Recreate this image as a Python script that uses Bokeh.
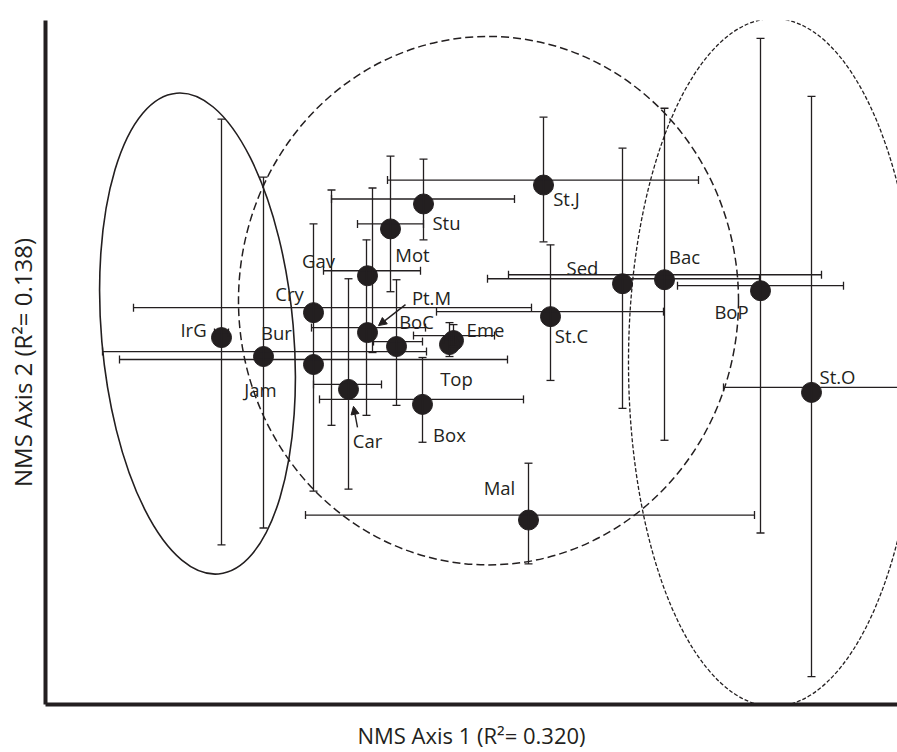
from bokeh.plotting import figure
from bokeh.models import (ColumnDataSource, Range1d, Whisker, TeeHead, FixedTicker,
                          Arrow, NormalHead)
from bokeh.core.properties import value
from bokeh.transform import dodge
from bokeh.embed import file_html
from bokeh.resources import INLINE

# ---- data (NMS scores, arbitrary units) ----
sites = ["IrG", "Bur", "Jam", "Cry", "Gav", "Mot", "Stu", "St.J", "Pt.M", "BoC",
         "Eme", "Top", "Car", "Box", "Mal", "St.C", "Sed", "Bac", "BoP", "St.O"]
axis1 = [176, 218, 268, 268, 322, 345, 378, 498, 322, 351,
         408, 404, 303, 377, 483, 505, 577, 619, 715, 766]
axis2 = [373, 354, 346, 398, 435, 482, 507, 526, 378, 364,
         370, 366, 321, 306, 190, 394, 427, 431, 420, 318]
# position of the vertical error bar on axis 1 (equals axis1 except where offset)
axis1_bar = [176, 218, 268, 286, 327, 345, 378, 498, 321, 351,
             408, 404, 303, 377, 483, 505, 577, 619, 715, 766]
axis1_lo = [169, 57, 74, 88, 278, 312, 286, 342, 266, 328,
            368, 398, 268, 274, 260, 391, 442, 463, 632, 678]
axis1_hi = [183, 381, 462, 486, 375, 378, 469, 653, 380, 377,
            449, 410, 336, 478, 709, 618, 714, 776, 798, 854]
axis2_lo = [160, 177, 214, 280, 353, 414, 466, 464, 290, 300,
            359, 349, 216, 263, 141, 325, 297, 265, 172, 28]
axis2_hi = [587, 529, 482, 516, 518, 550, 547, 589, 466, 426,
            381, 383, 427, 348, 242, 461, 558, 598, 668, 610]

# group ellipses: centre x, centre y, width, height, angle
grp_x = [152, 443, 728]
grp_y = [372, 405, 343]
grp_w = [192, 500, 290]
grp_h = [484, 530, 690]
grp_angle = [0.087, 0.0, 0.0]

# ---- layout / style (label offsets in screen pixels) ----
label_dx = {"IrG": -28, "Bur": 13, "Jam": -53, "Cry": -24, "Gav": -49, "Mot": 22,
            "Stu": 23, "St.J": 23, "Pt.M": 64, "BoC": 20, "Eme": 32, "Top": 7,
            "Car": 19, "Box": 27, "Mal": -29, "St.C": 21, "Sed": -40, "Bac": 20,
            "BoP": -29, "St.O": 26}
label_dy = {"IrG": -3, "Bur": -19, "Jam": 30, "Cry": -14, "Gav": -10, "Mot": 31,
            "Stu": 24, "St.J": 18, "Pt.M": -30, "BoC": -20, "Eme": -6, "Top": 39,
            "Car": 56, "Box": 35, "Mal": -28, "St.C": 24, "Sed": -11, "Bac": -18,
            "BoP": 26, "St.O": -11}
MARKER_SHIFT = -5  # markers in the original sit slightly below their bar crossings

INK = "#231f20"
FONT = "Open Sans"

p = figure(width=897, height=752, x_range=Range1d(0, 852), y_range=Range1d(0, 686),
           output_backend="svg", toolbar_location=None,
           min_border_left=45, min_border_right=0, min_border_top=20, min_border_bottom=46)
p.grid.visible = False
p.outline_line_color = None
p.background_fill_color = "white"
p.border_fill_color = "white"

for ax in (p.xaxis, p.yaxis):
    ax.ticker = FixedTicker(ticks=[])
    ax.major_tick_line_color = None
    ax.minor_tick_line_color = None
    ax.major_label_text_font_size = "0px"
    ax.axis_line_width = 4
    ax.axis_line_color = INK
    ax.axis_label_text_font = FONT
    ax.axis_label_text_font_style = "normal"
    ax.axis_label_text_color = INK
p.xaxis.axis_label = "NMS Axis 1 (R\u00b2= 0.320)"
p.yaxis.axis_label = "NMS Axis 2 (R\u00b2= 0.138)"
p.xaxis.axis_label_text_font_size = "22px"
p.yaxis.axis_label_text_font_size = "24px"
p.xaxis.axis_label_standoff = 15
p.yaxis.axis_label_standoff = 7

# group ellipses
styles = [dict(line_dash="solid", line_width=1.6),
          dict(line_dash="8 4", line_width=1.5),
          dict(line_dash="4 2", line_width=1.3)]
for i in range(3):
    p.ellipse(x=[grp_x[i]], y=[grp_y[i]], width=[grp_w[i]], height=[grp_h[i]],
              angle=[grp_angle[i]], fill_alpha=0, line_color=INK, **styles[i])

src = ColumnDataSource(dict(site=sites, x=axis1, y=axis2, xb=axis1_bar,
                            xlo=axis1_lo, xhi=axis1_hi, ylo=axis2_lo, yhi=axis2_hi,
                            dx=[label_dx[s] for s in sites],
                            dy=[label_dy[s] for s in sites]))

def tee():
    return TeeHead(size=8, line_color=INK, line_width=1.3)

hw = Whisker(source=src, base="y", lower="xlo", upper="xhi", dimension="width",
             line_color=INK, line_width=1.3, lower_head=tee(), upper_head=tee(),
             level="glyph")
vw = Whisker(source=src, base="xb", lower="ylo", upper="yhi", dimension="height",
             line_color=INK, line_width=1.3, lower_head=tee(), upper_head=tee(),
             level="glyph")
p.add_layout(hw)
p.add_layout(vw)

p.scatter(x="x", y=dodge("y", MARKER_SHIFT), source=src, size=20,
          fill_color=INK, line_color=INK)

p.text(x="x", y="y", text="site", source=src, x_offset="dx", y_offset="dy",
       text_align="center", text_baseline="middle", text_font=value(FONT),
       text_font_size="18.5px", text_color=INK)

# pointer arrows for crowded labels
ipm = sites.index("Pt.M")
icar = sites.index("Car")
p.add_layout(Arrow(x_start=axis1[ipm] + 38, y_start=axis2[ipm] + 23,
                   x_end=axis1[ipm] + 11, y_end=axis2[ipm] + 2,
                   line_color=INK, line_width=1.4,
                   end=NormalHead(size=8, fill_color=INK, line_color=INK)))
p.add_layout(Arrow(x_start=axis1[icar] + 9, y_start=axis2[icar] - 43,
                   x_end=axis1[icar] + 5, y_end=axis2[icar] - 22,
                   line_color=INK, line_width=1.4,
                   end=NormalHead(size=8, fill_color=INK, line_color=INK)))

open("out.html", "w").write(file_html(p, INLINE))
